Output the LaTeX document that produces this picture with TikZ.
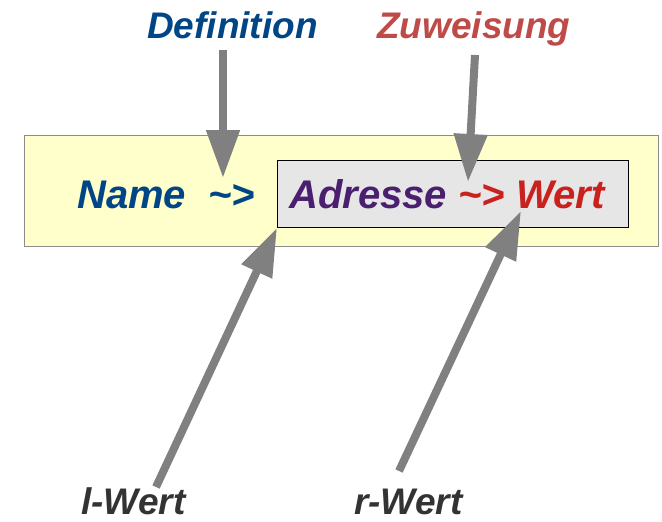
\documentclass[tikz,border=0pt]{standalone}
\usepackage{fontspec}
\setmainfont{Liberation Sans}
\usetikzlibrary{arrows.meta}
\definecolor{defblue}{HTML}{004586}
\definecolor{zuwred}{HTML}{BE4B48}
\definecolor{wertred}{HTML}{C9211E}
\definecolor{addrpurple}{HTML}{4B1F6F}
\definecolor{paleyellow}{HTML}{FFFFCC}
\definecolor{boxgrey}{HTML}{E6E6E6}
\definecolor{arrowgrey}{HTML}{808080}
\definecolor{darktext}{HTML}{333333}
\tikzset{
  bigtxt/.style={font=\fontsize{40}{48}\selectfont\bfseries\itshape, inner sep=0pt, anchor=base west},
  lbl/.style={font=\fontsize{37}{44}\selectfont\bfseries\itshape, inner sep=0pt, anchor=base west},
  pointer/.style={draw=arrowgrey, line width=8pt, -{Triangle[length=48pt,width=32pt]}, arrowgrey},
}
\begin{document}
\begin{tikzpicture}[x=1pt,y=-1pt]
  \useasboundingbox (0,0) rectangle (662,522);
  % frames
  \node[draw=black!45, fill=paleyellow, minimum width=634pt, minimum height=111pt, anchor=north west, inner sep=0pt] (outer) at (24,135) {};
  \node[draw=black, fill=boxgrey, minimum width=351pt, minimum height=67pt, anchor=north west, inner sep=0pt] (inner) at (277,160) {};
  % expression
  \node[bigtxt, text=defblue] (name) at (77,208) {Name};
  \node[bigtxt, text=defblue] (bind) at (208,208) {\textasciitilde>};
  \node[bigtxt, text=addrpurple] (addr) at (289,208) {Adresse};
  \node[bigtxt, text=wertred] (assign) at (458,208) {\textasciitilde>};
  \node[bigtxt, text=wertred] (wert) at (516,208) {Wert};
  % labels
  \node[lbl, text=defblue] (deflbl) at (147,38) {Definition};
  \node[lbl, text=zuwred] (zuwlbl) at (377,38) {Zuweisung};
  \node[lbl, text=darktext] (lwert) at (81,514) {l-Wert};
  \node[lbl, text=darktext] (rwert) at (354,514) {r-Wert};
  % pointer ends
  \coordinate (defstart) at (223,50);
  \coordinate (deftip) at (223,178);
  \coordinate (zuwstart) at (475,55);
  \coordinate (zuwtip) at (468,182);
  \coordinate (lstart) at (156,487);
  \coordinate (ltip) at (277,228);
  \coordinate (rstart) at (399,471);
  \coordinate (rtip) at (521,211);
  \draw[pointer] (defstart) -- (deftip);
  \draw[pointer] (zuwstart) -- (zuwtip);
  \draw[pointer] (lstart) -- (ltip);
  \draw[pointer] (rstart) -- (rtip);
\end{tikzpicture}
\end{document}
